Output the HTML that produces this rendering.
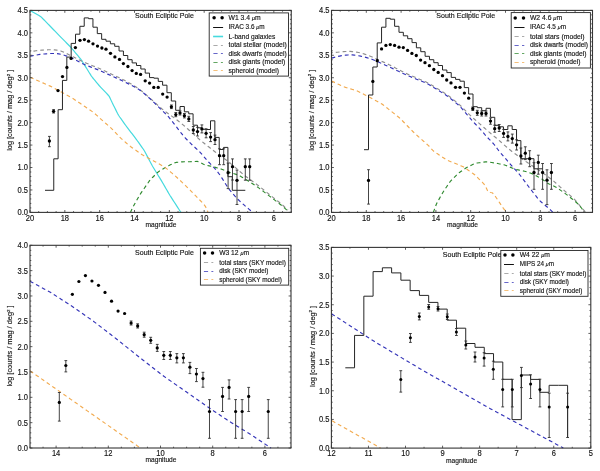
<!DOCTYPE html><html><head><meta charset="utf-8"><style>html,body{margin:0;padding:0;background:#fff;}svg{display:block;will-change:transform;}text{font-family:"Liberation Sans", sans-serif;}</style></head><body>
<svg width="600" height="471" viewBox="0 0 600 471">
<rect width="600" height="471" fill="#fff"/>
<polyline points="30,10.4 31.8,11.43 33.6,12.47 35.4,13.5 37.2,14.53 39,15.57 40.75,16.66 42.22,18.05 43.63,19.49 45.05,20.94 46.46,22.38 47.88,23.83 49.29,25.28 50.71,26.74 52.14,28.23 53.57,29.71 55,31.2 56.43,32.69 57.86,34.17 59.29,35.66 60.76,37.16 62.27,38.67 63.79,40.19 65.3,41.7 66.81,43.21 68.33,44.73 69.84,46.24 71.26,47.79 72.59,49.38 73.91,50.97 75.24,52.56 76.56,54.14 77.89,55.73 79.21,57.32 80.53,58.91 81.73,60.55 82.79,62.25 83.85,63.95 84.91,65.65 85.97,67.35 87.03,69.05 88.09,70.75 89.15,72.45 90.21,74.15 91.27,75.85 92.47,77.5 93.79,79.1 95.12,80.7 96.45,82.3 97.77,83.9 99.12,85.49 100.56,87.04 102.01,88.59 103.47,90.13 104.93,91.67 106.39,93.21 107.84,94.76 109.23,96.38 110.26,98.46 111.22,100.62 112.15,102.6 113.06,104.42 113.97,106.23 114.87,108.05 115.78,109.86 116.69,111.67 117.59,113.49 118.54,115.28 119.71,117 120.93,118.7 122.14,120.4 123.36,122.1 124.57,123.8 125.79,125.5 127.01,127.2 128.31,128.89 129.62,130.58 130.92,132.28 132.23,133.97 133.54,135.66 134.85,137.35 136.11,139.05 137.32,140.75 138.54,142.45 139.75,144.15 140.96,145.85 142.18,147.55 143.39,149.25 144.47,151 145.42,152.78 146.36,154.57 147.31,156.36 148.25,158.15 149.19,159.94 150.14,161.73 151.08,163.52 152.03,165.3 153.03,167.06 154.09,168.79 155.16,170.51 156.22,172.24 157.28,173.96 158.34,175.69 159.41,177.41 160.47,179.14 161.53,180.91 162.59,182.74 163.65,184.56 164.71,186.38 165.76,188.21 166.82,190.03 167.88,191.85 168.94,193.68 170,195.48 171.09,197.19 172.18,198.88 173.27,200.57 174.36,202.26 175.45,203.95 176.54,205.64 177.63,207.33 178.72,209.02 179.81,210.71 180.9,212.4" fill="none" stroke="#45dade" stroke-width="1.2" stroke-linejoin="round"/>
<polyline points="30,51.7 32,51.4 34,51.1 36,50.8 38.01,50.53 40.02,50.29 42.04,50.12 44.07,49.99 46.11,49.88 48.16,49.78 50.23,49.73 52.35,49.77 54.51,49.89 56.68,50.09 58.79,50.41 60.79,50.95 62.67,51.68 64.5,52.54 66.3,53.42 68.1,54.32 69.92,55.22 71.77,56.14 73.65,57.08 75.57,58.04 77.5,59 79.43,59.96 81.37,60.91 83.31,61.82 85.25,62.68 87.2,63.5 89.15,64.3 91.11,65.1 93.09,65.91 95.14,66.72 97.26,67.55 99.4,68.42 101.48,69.32 103.47,70.25 105.42,71.21 107.35,72.17 109.27,73.12 111.2,74.06 113.13,74.96 115.05,75.84 116.98,76.72 118.9,77.6 120.8,78.49 122.65,79.41 124.47,80.36 126.26,81.32 128.04,82.28 129.82,83.26 131.6,84.27 133.36,85.33 135.11,86.45 136.85,87.6 138.58,88.77 140.27,89.97 141.89,91.21 143.46,92.5 144.98,93.82 146.5,95.15 148.01,96.48 149.53,97.81 151.05,99.15 152.57,100.51 154.09,101.88 155.62,103.26 157.15,104.65 158.68,106.03 160.22,107.41 161.78,108.76 163.38,110.05 165.02,111.29 166.69,112.5 168.36,113.7 170.04,114.9 171.71,116.1 173.38,117.31 175.04,118.52 176.68,119.76 178.3,121.03 179.9,122.3 181.5,123.59 183.09,124.9 184.68,126.25 186.27,127.64 187.85,129.05 189.43,130.47 191.02,131.9 192.61,133.33 194.2,134.76 195.8,136.2 197.4,137.63 199,139.04 200.6,140.4 202.2,141.71 203.8,143 205.4,144.28 207,145.55 208.59,146.81 210.18,148.06 211.76,149.31 213.35,150.55 214.94,151.79 216.53,153.03 218.13,154.26 219.77,155.48 221.43,156.67 223.11,157.86 224.79,159.04 226.47,160.24 228.13,161.46 229.75,162.74 231.35,164.07 232.92,165.43 234.5,166.79 236.07,168.17 237.63,169.53 239.21,170.9 240.78,172.27 242.35,173.64 243.95,174.98 245.6,176.28 247.28,177.55 248.98,178.79 250.69,180.03 252.41,181.27 254.12,182.51 255.83,183.75 257.52,185.01 259.2,186.29 260.85,187.59 262.49,188.91 264.13,190.24 265.77,191.56 267.41,192.89 269.04,194.21 270.68,195.53 272.33,196.84 273.97,198.14 275.62,199.43 277.26,200.72 278.9,202.02 280.53,203.32 282.1,204.65 283.62,206.01 285.1,207.4 286.55,208.8 288,210.2" fill="none" stroke="#8e8e8e" stroke-width="1.15" stroke-dasharray="3.8 3.0" stroke-dashoffset="3.3" stroke-linejoin="round"/>
<polyline points="30,56.3 32,55.9 34,55.5 36,55.1 38.01,54.73 40.02,54.42 42.04,54.17 44.07,53.98 46.11,53.81 48.16,53.66 50.23,53.55 52.35,53.51 54.51,53.55 56.69,53.66 58.83,53.87 60.91,54.25 62.91,54.8 64.87,55.44 66.82,56.11 68.76,56.81 70.68,57.55 72.55,58.38 74.37,59.3 76.16,60.26 77.95,61.25 79.73,62.22 81.54,63.18 83.38,64.08 85.27,64.9 87.2,65.66 89.15,66.4 91.1,67.13 93.04,67.87 94.96,68.62 96.86,69.37 98.74,70.15 100.63,70.95 102.54,71.79 104.46,72.65 106.38,73.52 108.31,74.39 110.24,75.26 112.16,76.14 114.09,77.01 116.02,77.88 117.95,78.76 119.88,79.64 121.81,80.54 123.75,81.48 125.69,82.43 127.63,83.39 129.57,84.36 131.47,85.33 133.31,86.31 135.1,87.3 136.85,88.3 138.58,89.32 140.27,90.4 141.89,91.58 143.46,92.86 144.98,94.2 146.5,95.55 148.01,96.91 149.52,98.27 151.02,99.64 152.49,101.02 153.93,102.42 155.37,103.83 156.79,105.25 158.22,106.66 159.65,108.07 161.09,109.49 162.57,110.92 164.09,112.37 165.63,113.83 167.14,115.34 168.59,116.92 169.96,118.57 171.29,120.25 172.61,121.95 173.92,123.64 175.22,125.32 176.49,126.97 177.74,128.59 178.98,130.2 180.21,131.8 181.44,133.4 182.7,134.98 184,136.53 185.37,138.03 186.78,139.51 188.21,140.96 189.66,142.42 191.13,143.87 192.65,145.32 194.21,146.76 195.8,148.2 197.38,149.65 198.93,151.12 200.39,152.63 201.78,154.18 203.13,155.76 204.47,157.34 205.81,158.92 207.16,160.47 208.55,161.99 209.96,163.47 211.39,164.94 212.82,166.4 214.23,167.87 215.6,169.38 216.9,170.95 218.14,172.57 219.35,174.23 220.52,175.93 221.65,177.67 222.77,179.43 223.87,181.21 224.98,182.98 226.09,184.75 227.22,186.49 228.39,188.19 229.62,189.81 230.89,191.37 232.18,192.92 233.47,194.45 234.78,195.99 236.15,197.52 237.6,199.03 239.15,200.53 240.76,202.02 242.38,203.49 244,204.94 245.63,206.36 247.25,207.74 248.88,209.11 250.52,210.46 252.17,211.77 253,212.4" fill="none" stroke="#3434b8" stroke-width="1.15" stroke-dasharray="3.8 3.0" stroke-dashoffset="0" stroke-linejoin="round"/>
<polyline points="130.5,212.4 131.4,210.25 132.33,208.18 133.33,206.29 134.35,204.47 135.38,202.66 136.41,200.85 137.43,199.03 138.46,197.22 139.5,195.41 140.6,193.65 141.76,191.94 142.94,190.24 144.12,188.53 145.29,186.82 146.47,185.12 147.65,183.41 148.83,181.71 150.07,180.04 151.51,178.49 153.02,176.98 154.53,175.47 156.04,173.96 157.57,172.48 159.25,171.17 161.1,170.03 162.97,168.92 164.83,167.81 166.7,166.74 168.54,165.77 170.39,164.83 172.23,163.9 174.09,163.01 176.05,162.44 178.11,162.2 180.19,162 182.26,161.81 184.35,161.71 186.45,161.7 188.55,161.7 190.66,161.69 192.81,161.63 195,161.5 197.18,161.43 199.24,161.9 201.17,162.89 203.09,163.94 205.04,164.86 207.08,165.42 209.15,165.85 211.23,166.28 213.31,166.74 215.4,167.33 217.5,167.95 219.6,168.58 221.69,169.24 223.77,170.03 225.85,170.85 227.92,171.67 230,172.46 232.07,173.12 234.15,173.75 236.22,174.38 238.25,175.11 240.17,176.11 242.03,177.22 243.9,178.33 245.76,179.45 247.6,180.59 249.4,181.75 251.2,182.92 253,184.09 254.8,185.26 256.6,186.43 258.36,187.62 260.04,188.85 261.67,190.1 263.31,191.35 264.95,192.6 266.59,193.85 268.22,195.1 269.86,196.35 271.5,197.61 273.15,198.88 274.79,200.15 276.44,201.43 278.08,202.71 279.73,203.98 281.38,205.27 283.03,206.67 284.69,208.17 286.34,209.69 288,211.2" fill="none" stroke="#2f8a2f" stroke-width="1.15" stroke-dasharray="3.8 3.0" stroke-dashoffset="0" stroke-linejoin="round"/>
<polyline points="30,77.2 31.84,78.01 33.69,78.82 35.53,79.63 37.37,80.43 39.22,81.24 41.06,82.05 42.9,82.86 44.75,83.67 46.59,84.48 48.43,85.3 50.26,86.14 52.07,87.03 53.86,87.97 55.64,88.94 57.41,89.91 59.19,90.89 60.96,91.86 62.74,92.84 64.51,93.81 66.29,94.79 68.06,95.76 69.83,96.75 71.59,97.76 73.33,98.82 75.04,99.93 76.74,101.06 78.44,102.2 80.13,103.35 81.83,104.49 83.52,105.64 85.22,106.78 86.92,107.92 88.61,109.07 90.3,110.22 91.98,111.39 93.63,112.63 95.23,113.96 96.8,115.34 98.35,116.75 99.9,118.17 101.45,119.58 103.02,120.97 104.59,122.36 106.16,123.73 107.74,125.09 109.32,126.47 110.86,127.87 112.36,129.33 113.81,130.84 115.24,132.38 116.66,133.92 118.08,135.46 119.53,136.97 121.03,138.41 122.56,139.79 124.12,141.14 125.69,142.48 127.26,143.82 128.85,145.14 130.46,146.43 132.12,147.67 133.8,148.87 135.5,150.06 137.2,151.25 138.9,152.44 140.6,153.62 142.32,154.78 144.08,155.87 145.88,156.89 147.71,157.85 149.56,158.78 151.42,159.72 153.26,160.67 155.1,161.67 156.92,162.7 158.74,163.75 160.55,164.82 162.36,165.88 164.15,166.98 165.88,168.14 167.54,169.4 169.14,170.72 170.71,172.07 172.29,173.43 173.85,174.79 175.41,176.15 176.95,177.52 178.45,178.91 179.93,180.3 181.4,181.7 182.87,183.1 184.33,184.5 185.8,185.9 187.25,187.31 188.69,188.73 190.11,190.16 191.52,191.6 192.93,193.04 194.34,194.48 195.74,195.92 197.15,197.36 198.56,198.8 199.97,200.24 201.38,201.68 202.77,203.14 204.11,204.66 205.31,206.33 206.35,208.2 207.2,210.27 208,212.4" fill="none" stroke="#f2ab50" stroke-width="1.15" stroke-dasharray="3.8 3.0" stroke-dashoffset="0" stroke-linejoin="round"/>
<path d="M45,190.3H53.75V158.8H58.11V109.7H62.46V80.4H66.82V57.1H71.17V43.4H75.52V34.2H79.88V26.3H84.23V17.9H88.59V18.7H92.94V27.2H97.29V33.6H101.65V39.3H106V41.2H110.36V43.8H114.71V46.3H119.06V51H123.42V55.5H127.77V59.7H132.13V62.9H136.48V65.5H140.83V69H145.19V73.1H149.54V77.6H153.9V78.2H158.25V81.4H162.6V85.2H166.96V92.7H171.31V101H175.67V110.3H180.02V106.5H184.37V111.8H188.73V113.8H193.08V125.2H197.44V127.8H201.79V129.3H206.14V129.5H210.5V120.8H214.85V137.4H219.21V149.5H223.56V147.4H227.91V176.7H232.27V190.3H245.3" fill="none" stroke="#262626" stroke-width="1.0"/>
<path d="M49.4,136.4V146.7M48,136.4h2.8M48,146.7h2.8M53.6,109.6V113M52.2,109.6h2.8M52.2,113h2.8M171.4,105V108.6M170,105h2.8M170,108.6h2.8M175.8,112.5V116.7M174.4,112.5h2.8M174.4,116.7h2.8M180,110.8V115M178.6,110.8h2.8M178.6,115h2.8M184.4,113.5V117.9M183,113.5h2.8M183,117.9h2.8M188.8,116.3V121.5M187.4,116.3h2.8M187.4,121.5h2.8M193.3,126.5V133.5M191.9,126.5h2.8M191.9,133.5h2.8M197.5,127.3V136M196.1,127.3h2.8M196.1,136h2.8M201.9,124.9V132.9M200.5,124.9h2.8M200.5,132.9h2.8M206.1,128.8V137.8M204.7,128.8h2.8M204.7,137.8h2.8M210.6,132.6V141.6M209.2,132.6h2.8M209.2,141.6h2.8M215,135.1V144.5M213.6,135.1h2.8M213.6,144.5h2.8M219.5,148.8V164.7M218.1,148.8h2.8M218.1,164.7h2.8M223.7,148.8V164.7M222.3,148.8h2.8M222.3,164.7h2.8M228.1,163.1V188.6M226.7,163.1h2.8M226.7,188.6h2.8M232.5,158.9V180M231.1,158.9h2.8M231.1,180h2.8M237,170.1V204.5M235.6,170.1h2.8M235.6,204.5h2.8M245.3,158.9V180.2M243.9,158.9h2.8M243.9,180.2h2.8M249.7,158.9V180.2M248.3,158.9h2.8M248.3,180.2h2.8" stroke="#303030" stroke-width="0.9" fill="none"/>
<circle cx="49.4" cy="141" r="1.65" fill="#000"/>
<circle cx="53.6" cy="111.3" r="1.65" fill="#000"/>
<circle cx="58" cy="90.6" r="1.65" fill="#000"/>
<circle cx="62.5" cy="76.6" r="1.65" fill="#000"/>
<circle cx="66.9" cy="67.4" r="1.65" fill="#000"/>
<circle cx="71.1" cy="58.4" r="1.65" fill="#000"/>
<circle cx="75.4" cy="47.6" r="1.65" fill="#000"/>
<circle cx="80" cy="40.3" r="1.65" fill="#000"/>
<circle cx="84.4" cy="39.6" r="1.65" fill="#000"/>
<circle cx="88.6" cy="41.2" r="1.65" fill="#000"/>
<circle cx="93" cy="43.8" r="1.65" fill="#000"/>
<circle cx="97.5" cy="46.1" r="1.65" fill="#000"/>
<circle cx="101.9" cy="48" r="1.65" fill="#000"/>
<circle cx="106" cy="49.2" r="1.65" fill="#000"/>
<circle cx="110.5" cy="53.3" r="1.65" fill="#000"/>
<circle cx="114.9" cy="56.9" r="1.65" fill="#000"/>
<circle cx="119.5" cy="59.4" r="1.65" fill="#000"/>
<circle cx="123.4" cy="63.6" r="1.65" fill="#000"/>
<circle cx="127.9" cy="66.5" r="1.65" fill="#000"/>
<circle cx="132.1" cy="70.6" r="1.65" fill="#000"/>
<circle cx="136.3" cy="73.4" r="1.65" fill="#000"/>
<circle cx="140.6" cy="74.4" r="1.65" fill="#000"/>
<circle cx="145.2" cy="80.8" r="1.65" fill="#000"/>
<circle cx="149.6" cy="83.1" r="1.65" fill="#000"/>
<circle cx="153.8" cy="87.4" r="1.65" fill="#000"/>
<circle cx="158.2" cy="87.4" r="1.65" fill="#000"/>
<circle cx="162.7" cy="94.1" r="1.65" fill="#000"/>
<circle cx="167.1" cy="97.1" r="1.65" fill="#000"/>
<circle cx="171.4" cy="106.8" r="1.65" fill="#000"/>
<circle cx="175.8" cy="114.6" r="1.65" fill="#000"/>
<circle cx="180" cy="112.9" r="1.65" fill="#000"/>
<circle cx="184.4" cy="115.7" r="1.65" fill="#000"/>
<circle cx="188.8" cy="118.9" r="1.65" fill="#000"/>
<circle cx="193.3" cy="130" r="1.65" fill="#000"/>
<circle cx="197.5" cy="131.6" r="1.65" fill="#000"/>
<circle cx="201.9" cy="128.9" r="1.65" fill="#000"/>
<circle cx="206.1" cy="133.3" r="1.65" fill="#000"/>
<circle cx="210.6" cy="137.1" r="1.65" fill="#000"/>
<circle cx="215" cy="139.7" r="1.65" fill="#000"/>
<circle cx="219.5" cy="155.7" r="1.65" fill="#000"/>
<circle cx="223.7" cy="155.7" r="1.65" fill="#000"/>
<circle cx="228.1" cy="172.7" r="1.65" fill="#000"/>
<circle cx="232.5" cy="166.7" r="1.65" fill="#000"/>
<circle cx="237" cy="180.3" r="1.65" fill="#000"/>
<circle cx="245.3" cy="166.7" r="1.65" fill="#000"/>
<circle cx="249.7" cy="166.7" r="1.65" fill="#000"/>
<rect x="30" y="10.4" width="261.25" height="202" fill="none" stroke="#363636" stroke-width="1.1"/>
<path d="M30,212.4v-2.4M30,10.4v2.4M38.71,212.4v-1.3M38.71,10.4v1.3M47.42,212.4v-1.3M47.42,10.4v1.3M56.12,212.4v-1.3M56.12,10.4v1.3M64.83,212.4v-2.4M64.83,10.4v2.4M73.54,212.4v-1.3M73.54,10.4v1.3M82.25,212.4v-1.3M82.25,10.4v1.3M90.96,212.4v-1.3M90.96,10.4v1.3M99.67,212.4v-2.4M99.67,10.4v2.4M108.38,212.4v-1.3M108.38,10.4v1.3M117.08,212.4v-1.3M117.08,10.4v1.3M125.79,212.4v-1.3M125.79,10.4v1.3M134.5,212.4v-2.4M134.5,10.4v2.4M143.21,212.4v-1.3M143.21,10.4v1.3M151.92,212.4v-1.3M151.92,10.4v1.3M160.62,212.4v-1.3M160.62,10.4v1.3M169.33,212.4v-2.4M169.33,10.4v2.4M178.04,212.4v-1.3M178.04,10.4v1.3M186.75,212.4v-1.3M186.75,10.4v1.3M195.46,212.4v-1.3M195.46,10.4v1.3M204.17,212.4v-2.4M204.17,10.4v2.4M212.88,212.4v-1.3M212.88,10.4v1.3M221.58,212.4v-1.3M221.58,10.4v1.3M230.29,212.4v-1.3M230.29,10.4v1.3M239,212.4v-2.4M239,10.4v2.4M247.71,212.4v-1.3M247.71,10.4v1.3M256.42,212.4v-1.3M256.42,10.4v1.3M265.12,212.4v-1.3M265.12,10.4v1.3M273.83,212.4v-2.4M273.83,10.4v2.4M282.54,212.4v-1.3M282.54,10.4v1.3M291.25,212.4v-1.3M291.25,10.4v1.3M30,212.4h2.4M291.25,212.4h-2.4M30,207.91h1.3M291.25,207.91h-1.3M30,203.42h1.3M291.25,203.42h-1.3M30,198.93h1.3M291.25,198.93h-1.3M30,194.44h1.3M291.25,194.44h-1.3M30,189.96h2.4M291.25,189.96h-2.4M30,185.47h1.3M291.25,185.47h-1.3M30,180.98h1.3M291.25,180.98h-1.3M30,176.49h1.3M291.25,176.49h-1.3M30,172h1.3M291.25,172h-1.3M30,167.51h2.4M291.25,167.51h-2.4M30,163.02h1.3M291.25,163.02h-1.3M30,158.53h1.3M291.25,158.53h-1.3M30,154.04h1.3M291.25,154.04h-1.3M30,149.56h1.3M291.25,149.56h-1.3M30,145.07h2.4M291.25,145.07h-2.4M30,140.58h1.3M291.25,140.58h-1.3M30,136.09h1.3M291.25,136.09h-1.3M30,131.6h1.3M291.25,131.6h-1.3M30,127.11h1.3M291.25,127.11h-1.3M30,122.62h2.4M291.25,122.62h-2.4M30,118.13h1.3M291.25,118.13h-1.3M30,113.64h1.3M291.25,113.64h-1.3M30,109.16h1.3M291.25,109.16h-1.3M30,104.67h1.3M291.25,104.67h-1.3M30,100.18h2.4M291.25,100.18h-2.4M30,95.69h1.3M291.25,95.69h-1.3M30,91.2h1.3M291.25,91.2h-1.3M30,86.71h1.3M291.25,86.71h-1.3M30,82.22h1.3M291.25,82.22h-1.3M30,77.73h2.4M291.25,77.73h-2.4M30,73.24h1.3M291.25,73.24h-1.3M30,68.76h1.3M291.25,68.76h-1.3M30,64.27h1.3M291.25,64.27h-1.3M30,59.78h1.3M291.25,59.78h-1.3M30,55.29h2.4M291.25,55.29h-2.4M30,50.8h1.3M291.25,50.8h-1.3M30,46.31h1.3M291.25,46.31h-1.3M30,41.82h1.3M291.25,41.82h-1.3M30,37.33h1.3M291.25,37.33h-1.3M30,32.84h2.4M291.25,32.84h-2.4M30,28.36h1.3M291.25,28.36h-1.3M30,23.87h1.3M291.25,23.87h-1.3M30,19.38h1.3M291.25,19.38h-1.3M30,14.89h1.3M291.25,14.89h-1.3M30,10.4h2.4M291.25,10.4h-2.4" stroke="#363636" stroke-width="0.8" fill="none"/>
<text x="30" y="220.7" font-size="8.2" text-anchor="middle" fill="#151515" stroke="#151515" stroke-width="0.15" textLength="8.4" lengthAdjust="spacingAndGlyphs">20</text>
<text x="64.83" y="220.7" font-size="8.2" text-anchor="middle" fill="#151515" stroke="#151515" stroke-width="0.15" textLength="8.4" lengthAdjust="spacingAndGlyphs">18</text>
<text x="99.67" y="220.7" font-size="8.2" text-anchor="middle" fill="#151515" stroke="#151515" stroke-width="0.15" textLength="8.4" lengthAdjust="spacingAndGlyphs">16</text>
<text x="134.5" y="220.7" font-size="8.2" text-anchor="middle" fill="#151515" stroke="#151515" stroke-width="0.15" textLength="8.4" lengthAdjust="spacingAndGlyphs">14</text>
<text x="169.33" y="220.7" font-size="8.2" text-anchor="middle" fill="#151515" stroke="#151515" stroke-width="0.15" textLength="8.4" lengthAdjust="spacingAndGlyphs">12</text>
<text x="204.17" y="220.7" font-size="8.2" text-anchor="middle" fill="#151515" stroke="#151515" stroke-width="0.15" textLength="8.4" lengthAdjust="spacingAndGlyphs">10</text>
<text x="239" y="220.7" font-size="8.2" text-anchor="middle" fill="#151515" stroke="#151515" stroke-width="0.15" textLength="4.2" lengthAdjust="spacingAndGlyphs">8</text>
<text x="273.83" y="220.7" font-size="8.2" text-anchor="middle" fill="#151515" stroke="#151515" stroke-width="0.15" textLength="4.2" lengthAdjust="spacingAndGlyphs">6</text>
<text x="28" y="215.35" font-size="8.2" text-anchor="end" fill="#151515" stroke="#151515" stroke-width="0.15" textLength="10.49" lengthAdjust="spacingAndGlyphs">0.0</text>
<text x="28" y="192.91" font-size="8.2" text-anchor="end" fill="#151515" stroke="#151515" stroke-width="0.15" textLength="10.49" lengthAdjust="spacingAndGlyphs">0.5</text>
<text x="28" y="170.46" font-size="8.2" text-anchor="end" fill="#151515" stroke="#151515" stroke-width="0.15" textLength="10.49" lengthAdjust="spacingAndGlyphs">1.0</text>
<text x="28" y="148.02" font-size="8.2" text-anchor="end" fill="#151515" stroke="#151515" stroke-width="0.15" textLength="10.49" lengthAdjust="spacingAndGlyphs">1.5</text>
<text x="28" y="125.57" font-size="8.2" text-anchor="end" fill="#151515" stroke="#151515" stroke-width="0.15" textLength="10.49" lengthAdjust="spacingAndGlyphs">2.0</text>
<text x="28" y="103.13" font-size="8.2" text-anchor="end" fill="#151515" stroke="#151515" stroke-width="0.15" textLength="10.49" lengthAdjust="spacingAndGlyphs">2.5</text>
<text x="28" y="80.68" font-size="8.2" text-anchor="end" fill="#151515" stroke="#151515" stroke-width="0.15" textLength="10.49" lengthAdjust="spacingAndGlyphs">3.0</text>
<text x="28" y="58.24" font-size="8.2" text-anchor="end" fill="#151515" stroke="#151515" stroke-width="0.15" textLength="10.49" lengthAdjust="spacingAndGlyphs">3.5</text>
<text x="28" y="35.79" font-size="8.2" text-anchor="end" fill="#151515" stroke="#151515" stroke-width="0.15" textLength="10.49" lengthAdjust="spacingAndGlyphs">4.0</text>
<text x="28" y="13.35" font-size="8.2" text-anchor="end" fill="#151515" stroke="#151515" stroke-width="0.15" textLength="10.49" lengthAdjust="spacingAndGlyphs">4.5</text>
<text x="164.4" y="17.9" font-size="7.3" text-anchor="middle" fill="#151515" stroke="#151515" stroke-width="0.15" textLength="58.8" lengthAdjust="spacingAndGlyphs">South Ecliptic Pole</text>
<text x="161" y="227" font-size="7.1" text-anchor="middle" fill="#151515" stroke="#151515" stroke-width="0.15" textLength="31" lengthAdjust="spacingAndGlyphs">magnitude</text>
<text transform="translate(12.3,110.3) rotate(-90) scale(1.0249,1)" font-size="7.2" text-anchor="middle" fill="#151515" stroke="#151515" stroke-width="0.15">log [counts / mag / deg<tspan font-size="4.3" dy="-2.5">2</tspan><tspan dy="2.5"> ]</tspan></text>
<rect x="209.2" y="12.9" width="79.3" height="63.2" fill="#fff" stroke="#262626" stroke-width="0.9"/>
<circle cx="214.1" cy="17.8" r="1.75" fill="#000"/>
<circle cx="222.1" cy="17.8" r="1.75" fill="#000"/>
<text x="228.5" y="19.8" font-size="7.0" text-anchor="start" fill="#151515" stroke="#151515" stroke-width="0.15" textLength="32.2" lengthAdjust="spacingAndGlyphs">W1 3.4 <tspan font-style="italic" font-size="5.8">μ</tspan>m</text>
<path d="M213.1,27.5H223.1" stroke="#111" stroke-width="1"/>
<text x="228.5" y="29.4" font-size="7.0" text-anchor="start" fill="#151515" stroke="#151515" stroke-width="0.15" textLength="36.1" lengthAdjust="spacingAndGlyphs">IRAC 3.6 <tspan font-style="italic" font-size="5.8">μ</tspan>m</text>
<path d="M213.1,36.5H223.1" stroke="#45dade" stroke-width="1.6"/>
<text x="228.5" y="38.5" font-size="7.0" text-anchor="start" fill="#151515" stroke="#151515" stroke-width="0.15" textLength="46.8" lengthAdjust="spacingAndGlyphs">L-band galaxies</text>
<path d="M213.4,45.5H222.9" stroke="#8e8e8e" stroke-width="1" stroke-dasharray="4.2 3.3" opacity="0.75"/>
<text x="228.5" y="47.2" font-size="7.0" text-anchor="start" fill="#151515" stroke="#151515" stroke-width="0.15" textLength="58.2" lengthAdjust="spacingAndGlyphs">total stellar (model)</text>
<path d="M213.4,53.5H222.9" stroke="#3434b8" stroke-width="1" stroke-dasharray="4.2 3.3" opacity="0.75"/>
<text x="228.5" y="55.7" font-size="7.0" text-anchor="start" fill="#151515" stroke="#151515" stroke-width="0.15" textLength="58.2" lengthAdjust="spacingAndGlyphs">disk dwarfs (model)</text>
<path d="M213.4,62.5H222.9" stroke="#2f8a2f" stroke-width="1" stroke-dasharray="4.2 3.3" opacity="0.75"/>
<text x="228.5" y="64.2" font-size="7.0" text-anchor="start" fill="#151515" stroke="#151515" stroke-width="0.15" textLength="56.7" lengthAdjust="spacingAndGlyphs">disk giants (model)</text>
<path d="M213.4,70.5H222.9" stroke="#f2ab50" stroke-width="1" stroke-dasharray="4.2 3.3" opacity="0.75"/>
<text x="228.5" y="72.7" font-size="7.0" text-anchor="start" fill="#151515" stroke="#151515" stroke-width="0.15" textLength="50.5" lengthAdjust="spacingAndGlyphs">spheroid (model)</text>
<polyline points="331.5,52.8 333.52,52.6 335.54,52.4 337.56,52.2 339.59,52.01 341.65,51.82 343.74,51.66 345.85,51.51 347.97,51.42 350.1,51.43 352.22,51.59 354.34,51.85 356.46,52.17 358.55,52.53 360.61,52.97 362.6,53.52 364.55,54.15 366.48,54.82 368.41,55.5 370.32,56.22 372.22,56.99 374.11,57.81 375.99,58.67 377.87,59.53 379.74,60.4 381.62,61.27 383.5,62.13 385.37,63 387.25,63.87 389.11,64.74 390.96,65.63 392.78,66.54 394.57,67.46 396.36,68.39 398.15,69.32 399.94,70.25 401.73,71.18 403.52,72.1 405.32,73 407.14,73.86 408.98,74.68 410.83,75.48 412.68,76.27 414.53,77.06 416.39,77.85 418.24,78.64 420.09,79.43 421.94,80.23 423.79,81.02 425.63,81.85 427.45,82.74 429.24,83.72 431.01,84.76 432.77,85.84 434.53,86.91 436.28,87.99 438.04,89.07 439.8,90.15 441.55,91.23 443.31,92.31 445.06,93.4 446.78,94.53 448.46,95.72 450.09,96.98 451.7,98.28 453.3,99.59 454.9,100.91 456.5,102.22 458.09,103.54 459.64,104.88 461.14,106.26 462.59,107.68 464,109.11 465.43,110.57 466.9,112.04 468.43,113.54 470,115.05 471.6,116.55 473.18,118.02 474.76,119.45 476.34,120.83 477.91,122.21 479.48,123.58 481.05,124.95 482.62,126.32 484.18,127.7 485.75,129.08 487.32,130.46 488.89,131.85 490.48,133.24 492.11,134.64 493.84,136.09 495.65,137.56 497.41,139.02 499.06,140.43 500.63,141.8 502.17,143.16 503.7,144.52 505.24,145.88 506.81,147.25 508.45,148.64 510.17,150.04 511.95,151.43 513.71,152.78 515.42,154.05 517.08,155.27 518.73,156.46 520.37,157.64 522.02,158.83 523.67,160.01 525.35,161.18 527.06,162.34 528.79,163.49 530.53,164.63 532.28,165.78 534.02,166.92 535.77,168.07 537.51,169.21 539.24,170.37 540.96,171.55 542.66,172.77 544.33,174.01 546,175.26 547.67,176.51 549.33,177.77 550.99,179.03 552.62,180.31 554.21,181.62 555.76,182.96 557.28,184.33 558.8,185.7 560.31,187.07 561.83,188.44 563.37,189.8 564.92,191.14 566.51,192.47 568.1,193.79 569.7,195.11 571.28,196.44 572.82,197.8 574.27,199.22 575.64,200.71 576.96,202.23 578.27,203.75 579.58,205.28 580.88,206.81 582.2,208.35 583.53,209.89 584.91,211.48 585.8,212.4" fill="none" stroke="#8e8e8e" stroke-width="1.15" stroke-dasharray="3.8 3.0" stroke-dashoffset="2.5" stroke-linejoin="round"/>
<polyline points="331.5,58.1 333.52,57.58 335.54,57.06 337.56,56.55 339.59,56.07 341.65,55.67 343.73,55.37 345.84,55.15 347.96,54.97 350.08,54.86 352.2,54.87 354.32,55.06 356.44,55.37 358.56,55.75 360.66,56.15 362.71,56.6 364.72,57.11 366.69,57.67 368.64,58.25 370.58,58.84 372.5,59.48 374.39,60.19 376.26,60.98 378.1,61.81 379.95,62.65 381.79,63.49 383.63,64.33 385.47,65.17 387.32,66.02 389.17,66.87 391.03,67.73 392.91,68.62 394.8,69.53 396.7,70.44 398.6,71.35 400.5,72.26 402.4,73.17 404.31,74.07 406.22,74.94 408.14,75.76 410.07,76.56 412.01,77.35 413.95,78.13 415.88,78.91 417.82,79.69 419.75,80.47 421.69,81.26 423.62,82.04 425.54,82.86 427.41,83.75 429.23,84.74 431.01,85.8 432.77,86.89 434.53,87.98 436.28,89.08 438.04,90.17 439.8,91.27 441.55,92.37 443.31,93.46 445.06,94.57 446.78,95.71 448.46,96.92 450.09,98.18 451.7,99.48 453.3,100.79 454.9,102.11 456.5,103.42 458.09,104.76 459.64,106.15 461.14,107.65 462.59,109.26 464,110.93 465.4,112.61 466.81,114.3 468.23,115.99 469.64,117.68 471.07,119.35 472.49,120.98 473.91,122.54 475.33,124.02 476.75,125.46 478.16,126.89 479.53,128.36 480.86,129.86 482.16,131.38 483.45,132.92 484.75,134.46 486.12,135.99 487.55,137.52 489.05,139.04 490.55,140.57 492.05,142.12 493.49,143.75 494.85,145.47 496.17,147.25 497.47,149 498.77,150.68 500.09,152.28 501.41,153.83 502.73,155.37 504.05,156.9 505.37,158.43 506.69,159.97 508.02,161.5 509.35,163.03 510.69,164.56 512.04,166.08 513.4,167.6 514.76,169.12 516.12,170.64 517.48,172.16 518.82,173.69 520.12,175.25 521.36,176.83 522.57,178.43 523.76,180.04 524.95,181.65 526.13,183.27 527.32,184.88 528.52,186.48 529.73,188.08 530.96,189.66 532.19,191.24 533.42,192.82 534.66,194.39 535.89,195.97 537.14,197.54 538.41,199.09 539.77,200.57 541.23,201.98 542.78,203.33 544.35,204.65 545.93,205.97 547.51,207.31 549.09,208.69 550.66,210.13 552.22,211.64 553,212.4" fill="none" stroke="#3434b8" stroke-width="1.15" stroke-dasharray="3.8 3.0" stroke-dashoffset="0" stroke-linejoin="round"/>
<polyline points="433.3,212.4 434.06,210.38 434.81,208.36 435.57,206.33 436.34,204.32 437.22,202.42 438.22,200.62 439.24,198.84 440.25,197.05 441.27,195.27 442.29,193.49 443.32,191.73 444.42,190.03 445.53,188.37 446.65,186.7 447.77,185.03 448.89,183.37 450.09,181.73 451.51,180.17 453.02,178.65 454.53,177.12 456.04,175.59 457.56,174.08 459.15,172.74 460.82,171.56 462.5,170.4 464.18,169.24 465.87,168.09 467.63,167.05 469.47,166.1 471.31,165.17 473.16,164.24 475.06,163.44 477.13,163.01 479.25,162.72 481.38,162.43 483.51,162.14 485.63,161.88 487.69,161.89 489.7,162.18 491.7,162.5 493.7,162.82 495.7,163.15 497.74,163.52 499.81,163.94 501.89,164.36 503.96,164.81 506,165.44 508,166.26 510,167.1 512,167.94 514.01,168.76 516.07,169.41 518.19,169.88 520.32,170.34 522.45,170.79 524.57,171.25 526.69,171.78 528.79,172.5 530.87,173.3 532.94,174.11 534.85,175.01 536.6,176 538.33,177 540.07,178 541.82,179.07 543.63,180.32 545.46,181.63 547.29,182.91 549.13,183.97 550.98,184.8 552.82,185.6 554.67,186.42 556.48,187.44 558.25,188.65 560.02,189.88 561.78,191.12 563.55,192.35 565.31,193.59 567.01,194.86 568.65,196.16 570.28,197.47 571.91,198.78 573.54,200.08 575.17,201.39 576.74,202.75 578.17,204.22 579.54,205.73 580.9,207.27 582.19,209.03 583.4,211 584,212" fill="none" stroke="#2f8a2f" stroke-width="1.15" stroke-dasharray="3.8 3.0" stroke-dashoffset="0" stroke-linejoin="round"/>
<polyline points="331.5,81 333.38,81.89 335.25,82.78 337.13,83.68 339.01,84.57 340.88,85.46 342.76,86.34 344.69,87.08 346.65,87.68 348.62,88.26 350.59,88.85 352.56,89.43 354.53,90.02 356.47,90.66 358.31,91.52 360.13,92.43 361.94,93.34 363.76,94.26 365.57,95.17 367.39,96.09 369.2,97.02 371.03,98 372.86,99 374.69,100 376.51,101 378.34,102 380.17,103 381.96,104.05 383.61,105.27 385.22,106.55 386.83,107.82 388.44,109.09 390.05,110.36 391.65,111.64 393.26,112.91 394.87,114.18 396.48,115.45 398.09,116.73 399.67,118.04 401.16,119.5 402.62,121 404.08,122.5 405.54,124 407,125.5 408.46,127 409.92,128.5 411.38,130 412.84,131.5 414.32,132.98 415.85,134.37 417.39,135.74 418.94,137.11 420.49,138.47 422.04,139.84 423.58,141.21 425.13,142.58 426.68,143.95 428.22,145.33 429.71,146.84 431.15,148.5 432.59,150.15 434.15,151.55 435.81,152.69 437.49,153.81 439.16,154.94 440.84,156.06 442.51,157.19 444.19,158.31 445.87,159.43 447.69,160.38 449.63,161.18 451.58,161.97 453.54,162.76 455.49,163.55 457.44,164.34 459.39,165.12 461.35,165.91 463.25,166.77 464.97,167.89 466.64,169.07 468.31,170.26 469.99,171.44 471.66,172.63 473.33,173.81 474.96,175.04 476.43,176.43 477.86,177.86 479.29,179.29 480.71,180.71 482.14,182.14 483.57,183.57 484.89,185.08 485.82,186.88 486.65,188.75 487.48,190.62 488.53,192.16 490.4,192.5 492.34,192.8 493.7,194.16 494.9,195.81 496.1,197.48 497.3,199.21 498.5,201.03 499.7,202.85 500.9,204.66 502.1,206.48 503.33,208.27 504.66,209.94 506.02,211.58 506.7,212.4" fill="none" stroke="#f2ab50" stroke-width="1.15" stroke-dasharray="3.8 3.0" stroke-dashoffset="0" stroke-linejoin="round"/>
<path d="M364,149.7H368.5V95H372.85V67H377.21V42.9H381.56V27.2H385.92V18.3H390.27V19.2H394.62V26.3H398.98V32.3H403.33V35.8H407.69V38.7H412.04V42.6H416.39V47.8H420.75V51.7H425.1V56.3H429.46V59.7H433.81V62.7H438.16V65.5H442.52V70H446.87V72.6H451.23V77.4H455.58V79.4H459.93V81.2H464.29V87.6H468.64V94H473V106.7H477.35V107.7H481.7V110.7H486.06V108.3H490.41V117.3H494.77V125.3H499.12V126.8H503.47V129.5H507.83V125.8H512.18V129.5H516.54V140.6H520.89V158.7H525.24V158.7H529.6V158.7H533.95V168.8H538.31V168.8H542.7" fill="none" stroke="#262626" stroke-width="1.0"/>
<path d="M368.5,169.7V204.1M367.1,169.7h2.8M367.1,204.1h2.8M472.8,107V110.5M471.4,107h2.8M471.4,110.5h2.8M477.3,110.3V115.3M475.9,110.3h2.8M475.9,115.3h2.8M481.7,111V116M480.3,111h2.8M480.3,116h2.8M486,111V116M484.6,111h2.8M484.6,116h2.8M490.5,118V124.2M489.1,118h2.8M489.1,124.2h2.8M494.7,125.2V132.2M493.3,125.2h2.8M493.3,132.2h2.8M499.2,124.5V131.5M497.8,124.5h2.8M497.8,131.5h2.8M503.6,129.4V137.4M502.2,129.4h2.8M502.2,137.4h2.8M507.9,131.9V140.9M506.5,131.9h2.8M506.5,140.9h2.8M512.3,134.1V143.1M510.9,134.1h2.8M510.9,143.1h2.8M516.6,139.8V150M515.2,139.8h2.8M515.2,150h2.8M520.9,148V164M519.5,148h2.8M519.5,164h2.8M525.3,146.8V159.6M523.9,146.8h2.8M523.9,159.6h2.8M529.7,150.7V166.7M528.3,150.7h2.8M528.3,166.7h2.8M534,162.7V189.3M532.6,162.7h2.8M532.6,189.3h2.8M538.3,155.2V174.2M536.9,155.2h2.8M536.9,174.2h2.8M542.6,163.5V189.3M541.2,163.5h2.8M541.2,189.3h2.8M547,169.8V204.6M545.6,169.8h2.8M545.6,204.6h2.8M551.4,163.5V189.3M550,163.5h2.8M550,189.3h2.8" stroke="#303030" stroke-width="0.9" fill="none"/>
<circle cx="368.5" cy="180.4" r="1.65" fill="#000"/>
<circle cx="372.85" cy="81.4" r="1.65" fill="#000"/>
<circle cx="377.2" cy="60.7" r="1.65" fill="#000"/>
<circle cx="381.56" cy="48.9" r="1.65" fill="#000"/>
<circle cx="385.9" cy="45.4" r="1.65" fill="#000"/>
<circle cx="390.27" cy="44.6" r="1.65" fill="#000"/>
<circle cx="394.6" cy="45.4" r="1.65" fill="#000"/>
<circle cx="399" cy="47.2" r="1.65" fill="#000"/>
<circle cx="403.3" cy="47.6" r="1.65" fill="#000"/>
<circle cx="407.6" cy="50.4" r="1.65" fill="#000"/>
<circle cx="411.9" cy="53.4" r="1.65" fill="#000"/>
<circle cx="416.3" cy="55.5" r="1.65" fill="#000"/>
<circle cx="420.6" cy="60.1" r="1.65" fill="#000"/>
<circle cx="425" cy="62.7" r="1.65" fill="#000"/>
<circle cx="429.4" cy="65.7" r="1.65" fill="#000"/>
<circle cx="433.8" cy="69.5" r="1.65" fill="#000"/>
<circle cx="438.2" cy="72.4" r="1.65" fill="#000"/>
<circle cx="442.5" cy="75.7" r="1.65" fill="#000"/>
<circle cx="446.7" cy="80" r="1.65" fill="#000"/>
<circle cx="451" cy="82.9" r="1.65" fill="#000"/>
<circle cx="455.5" cy="87.3" r="1.65" fill="#000"/>
<circle cx="460" cy="87.3" r="1.65" fill="#000"/>
<circle cx="464.4" cy="93.1" r="1.65" fill="#000"/>
<circle cx="468.7" cy="98.2" r="1.65" fill="#000"/>
<circle cx="472.8" cy="108.7" r="1.65" fill="#000"/>
<circle cx="477.3" cy="112.8" r="1.65" fill="#000"/>
<circle cx="481.7" cy="113.5" r="1.65" fill="#000"/>
<circle cx="486" cy="113.5" r="1.65" fill="#000"/>
<circle cx="490.5" cy="121.1" r="1.65" fill="#000"/>
<circle cx="494.7" cy="128.7" r="1.65" fill="#000"/>
<circle cx="499.2" cy="128" r="1.65" fill="#000"/>
<circle cx="503.6" cy="133.4" r="1.65" fill="#000"/>
<circle cx="507.9" cy="136.4" r="1.65" fill="#000"/>
<circle cx="512.3" cy="138.6" r="1.65" fill="#000"/>
<circle cx="516.6" cy="144.8" r="1.65" fill="#000"/>
<circle cx="520.9" cy="156" r="1.65" fill="#000"/>
<circle cx="525.3" cy="153.2" r="1.65" fill="#000"/>
<circle cx="529.7" cy="158.7" r="1.65" fill="#000"/>
<circle cx="534" cy="172.5" r="1.65" fill="#000"/>
<circle cx="538.3" cy="162.4" r="1.65" fill="#000"/>
<circle cx="542.6" cy="172.5" r="1.65" fill="#000"/>
<circle cx="547" cy="180.2" r="1.65" fill="#000"/>
<circle cx="551.4" cy="172.5" r="1.65" fill="#000"/>
<rect x="331.5" y="10.4" width="261" height="202" fill="none" stroke="#363636" stroke-width="1.1"/>
<path d="M331.5,212.4v-2.4M331.5,10.4v2.4M340.2,212.4v-1.3M340.2,10.4v1.3M348.9,212.4v-1.3M348.9,10.4v1.3M357.6,212.4v-1.3M357.6,10.4v1.3M366.3,212.4v-2.4M366.3,10.4v2.4M375,212.4v-1.3M375,10.4v1.3M383.7,212.4v-1.3M383.7,10.4v1.3M392.4,212.4v-1.3M392.4,10.4v1.3M401.1,212.4v-2.4M401.1,10.4v2.4M409.8,212.4v-1.3M409.8,10.4v1.3M418.5,212.4v-1.3M418.5,10.4v1.3M427.2,212.4v-1.3M427.2,10.4v1.3M435.9,212.4v-2.4M435.9,10.4v2.4M444.6,212.4v-1.3M444.6,10.4v1.3M453.3,212.4v-1.3M453.3,10.4v1.3M462,212.4v-1.3M462,10.4v1.3M470.7,212.4v-2.4M470.7,10.4v2.4M479.4,212.4v-1.3M479.4,10.4v1.3M488.1,212.4v-1.3M488.1,10.4v1.3M496.8,212.4v-1.3M496.8,10.4v1.3M505.5,212.4v-2.4M505.5,10.4v2.4M514.2,212.4v-1.3M514.2,10.4v1.3M522.9,212.4v-1.3M522.9,10.4v1.3M531.6,212.4v-1.3M531.6,10.4v1.3M540.3,212.4v-2.4M540.3,10.4v2.4M549,212.4v-1.3M549,10.4v1.3M557.7,212.4v-1.3M557.7,10.4v1.3M566.4,212.4v-1.3M566.4,10.4v1.3M575.1,212.4v-2.4M575.1,10.4v2.4M583.8,212.4v-1.3M583.8,10.4v1.3M592.5,212.4v-1.3M592.5,10.4v1.3M331.5,212.4h2.4M592.5,212.4h-2.4M331.5,207.91h1.3M592.5,207.91h-1.3M331.5,203.42h1.3M592.5,203.42h-1.3M331.5,198.93h1.3M592.5,198.93h-1.3M331.5,194.44h1.3M592.5,194.44h-1.3M331.5,189.96h2.4M592.5,189.96h-2.4M331.5,185.47h1.3M592.5,185.47h-1.3M331.5,180.98h1.3M592.5,180.98h-1.3M331.5,176.49h1.3M592.5,176.49h-1.3M331.5,172h1.3M592.5,172h-1.3M331.5,167.51h2.4M592.5,167.51h-2.4M331.5,163.02h1.3M592.5,163.02h-1.3M331.5,158.53h1.3M592.5,158.53h-1.3M331.5,154.04h1.3M592.5,154.04h-1.3M331.5,149.56h1.3M592.5,149.56h-1.3M331.5,145.07h2.4M592.5,145.07h-2.4M331.5,140.58h1.3M592.5,140.58h-1.3M331.5,136.09h1.3M592.5,136.09h-1.3M331.5,131.6h1.3M592.5,131.6h-1.3M331.5,127.11h1.3M592.5,127.11h-1.3M331.5,122.62h2.4M592.5,122.62h-2.4M331.5,118.13h1.3M592.5,118.13h-1.3M331.5,113.64h1.3M592.5,113.64h-1.3M331.5,109.16h1.3M592.5,109.16h-1.3M331.5,104.67h1.3M592.5,104.67h-1.3M331.5,100.18h2.4M592.5,100.18h-2.4M331.5,95.69h1.3M592.5,95.69h-1.3M331.5,91.2h1.3M592.5,91.2h-1.3M331.5,86.71h1.3M592.5,86.71h-1.3M331.5,82.22h1.3M592.5,82.22h-1.3M331.5,77.73h2.4M592.5,77.73h-2.4M331.5,73.24h1.3M592.5,73.24h-1.3M331.5,68.76h1.3M592.5,68.76h-1.3M331.5,64.27h1.3M592.5,64.27h-1.3M331.5,59.78h1.3M592.5,59.78h-1.3M331.5,55.29h2.4M592.5,55.29h-2.4M331.5,50.8h1.3M592.5,50.8h-1.3M331.5,46.31h1.3M592.5,46.31h-1.3M331.5,41.82h1.3M592.5,41.82h-1.3M331.5,37.33h1.3M592.5,37.33h-1.3M331.5,32.84h2.4M592.5,32.84h-2.4M331.5,28.36h1.3M592.5,28.36h-1.3M331.5,23.87h1.3M592.5,23.87h-1.3M331.5,19.38h1.3M592.5,19.38h-1.3M331.5,14.89h1.3M592.5,14.89h-1.3M331.5,10.4h2.4M592.5,10.4h-2.4" stroke="#363636" stroke-width="0.8" fill="none"/>
<text x="331.5" y="220.7" font-size="8.2" text-anchor="middle" fill="#151515" stroke="#151515" stroke-width="0.15" textLength="8.4" lengthAdjust="spacingAndGlyphs">20</text>
<text x="366.3" y="220.7" font-size="8.2" text-anchor="middle" fill="#151515" stroke="#151515" stroke-width="0.15" textLength="8.4" lengthAdjust="spacingAndGlyphs">18</text>
<text x="401.1" y="220.7" font-size="8.2" text-anchor="middle" fill="#151515" stroke="#151515" stroke-width="0.15" textLength="8.4" lengthAdjust="spacingAndGlyphs">16</text>
<text x="435.9" y="220.7" font-size="8.2" text-anchor="middle" fill="#151515" stroke="#151515" stroke-width="0.15" textLength="8.4" lengthAdjust="spacingAndGlyphs">14</text>
<text x="470.7" y="220.7" font-size="8.2" text-anchor="middle" fill="#151515" stroke="#151515" stroke-width="0.15" textLength="8.4" lengthAdjust="spacingAndGlyphs">12</text>
<text x="505.5" y="220.7" font-size="8.2" text-anchor="middle" fill="#151515" stroke="#151515" stroke-width="0.15" textLength="8.4" lengthAdjust="spacingAndGlyphs">10</text>
<text x="540.3" y="220.7" font-size="8.2" text-anchor="middle" fill="#151515" stroke="#151515" stroke-width="0.15" textLength="4.2" lengthAdjust="spacingAndGlyphs">8</text>
<text x="575.1" y="220.7" font-size="8.2" text-anchor="middle" fill="#151515" stroke="#151515" stroke-width="0.15" textLength="4.2" lengthAdjust="spacingAndGlyphs">6</text>
<text x="329.5" y="215.35" font-size="8.2" text-anchor="end" fill="#151515" stroke="#151515" stroke-width="0.15" textLength="10.49" lengthAdjust="spacingAndGlyphs">0.0</text>
<text x="329.5" y="192.91" font-size="8.2" text-anchor="end" fill="#151515" stroke="#151515" stroke-width="0.15" textLength="10.49" lengthAdjust="spacingAndGlyphs">0.5</text>
<text x="329.5" y="170.46" font-size="8.2" text-anchor="end" fill="#151515" stroke="#151515" stroke-width="0.15" textLength="10.49" lengthAdjust="spacingAndGlyphs">1.0</text>
<text x="329.5" y="148.02" font-size="8.2" text-anchor="end" fill="#151515" stroke="#151515" stroke-width="0.15" textLength="10.49" lengthAdjust="spacingAndGlyphs">1.5</text>
<text x="329.5" y="125.57" font-size="8.2" text-anchor="end" fill="#151515" stroke="#151515" stroke-width="0.15" textLength="10.49" lengthAdjust="spacingAndGlyphs">2.0</text>
<text x="329.5" y="103.13" font-size="8.2" text-anchor="end" fill="#151515" stroke="#151515" stroke-width="0.15" textLength="10.49" lengthAdjust="spacingAndGlyphs">2.5</text>
<text x="329.5" y="80.68" font-size="8.2" text-anchor="end" fill="#151515" stroke="#151515" stroke-width="0.15" textLength="10.49" lengthAdjust="spacingAndGlyphs">3.0</text>
<text x="329.5" y="58.24" font-size="8.2" text-anchor="end" fill="#151515" stroke="#151515" stroke-width="0.15" textLength="10.49" lengthAdjust="spacingAndGlyphs">3.5</text>
<text x="329.5" y="35.79" font-size="8.2" text-anchor="end" fill="#151515" stroke="#151515" stroke-width="0.15" textLength="10.49" lengthAdjust="spacingAndGlyphs">4.0</text>
<text x="329.5" y="13.35" font-size="8.2" text-anchor="end" fill="#151515" stroke="#151515" stroke-width="0.15" textLength="10.49" lengthAdjust="spacingAndGlyphs">4.5</text>
<text x="465.7" y="17.9" font-size="7.3" text-anchor="middle" fill="#151515" stroke="#151515" stroke-width="0.15" textLength="58.8" lengthAdjust="spacingAndGlyphs">South Ecliptic Pole</text>
<text x="462.5" y="227" font-size="7.1" text-anchor="middle" fill="#151515" stroke="#151515" stroke-width="0.15" textLength="31" lengthAdjust="spacingAndGlyphs">magnitude</text>
<text transform="translate(313.8,110.3) rotate(-90) scale(1.0249,1)" font-size="7.2" text-anchor="middle" fill="#151515" stroke="#151515" stroke-width="0.15">log [counts / mag / deg<tspan font-size="4.3" dy="-2.5">2</tspan><tspan dy="2.5"> ]</tspan></text>
<rect x="511.2" y="12.6" width="79.2" height="55.4" fill="#fff" stroke="#262626" stroke-width="0.9"/>
<circle cx="515.2" cy="18" r="1.75" fill="#000"/>
<circle cx="523.5" cy="18" r="1.75" fill="#000"/>
<text x="529.9" y="20" font-size="7.0" text-anchor="start" fill="#151515" stroke="#151515" stroke-width="0.15" textLength="32.2" lengthAdjust="spacingAndGlyphs">W2 4.6 <tspan font-style="italic" font-size="5.8">μ</tspan>m</text>
<path d="M514.2,27.5H524.5" stroke="#111" stroke-width="1"/>
<text x="529.9" y="29.4" font-size="7.0" text-anchor="start" fill="#151515" stroke="#151515" stroke-width="0.15" textLength="36.1" lengthAdjust="spacingAndGlyphs">IRAC 4.5 <tspan font-style="italic" font-size="5.8">μ</tspan>m</text>
<path d="M514.5,36.5H524.3" stroke="#8e8e8e" stroke-width="1" stroke-dasharray="4.2 3.3" opacity="0.75"/>
<text x="529.9" y="38.6" font-size="7.0" text-anchor="start" fill="#151515" stroke="#151515" stroke-width="0.15" textLength="54.7" lengthAdjust="spacingAndGlyphs">total stars (model)</text>
<path d="M514.5,45.5H524.3" stroke="#3434b8" stroke-width="1" stroke-dasharray="4.2 3.3" opacity="0.75"/>
<text x="529.9" y="47" font-size="7.0" text-anchor="start" fill="#151515" stroke="#151515" stroke-width="0.15" textLength="58.2" lengthAdjust="spacingAndGlyphs">disk dwarfs (model)</text>
<path d="M514.5,53.5H524.3" stroke="#2f8a2f" stroke-width="1" stroke-dasharray="4.2 3.3" opacity="0.75"/>
<text x="529.9" y="55.6" font-size="7.0" text-anchor="start" fill="#151515" stroke="#151515" stroke-width="0.15" textLength="56.7" lengthAdjust="spacingAndGlyphs">disk giants (model)</text>
<path d="M514.5,62.5H524.3" stroke="#f2ab50" stroke-width="1" stroke-dasharray="4.2 3.3" opacity="0.75"/>
<text x="529.9" y="64.1" font-size="7.0" text-anchor="start" fill="#151515" stroke="#151515" stroke-width="0.15" textLength="50.5" lengthAdjust="spacingAndGlyphs">spheroid (model)</text>
<polyline points="30,281.2 31.77,282.17 33.53,283.13 35.3,284.1 37.07,285.07 38.83,286.03 40.6,287 42.37,287.97 44.13,288.93 45.9,289.9 47.67,290.87 49.42,291.85 51.17,292.87 52.9,293.92 54.61,295.01 56.31,296.11 58.02,297.22 59.72,298.32 61.42,299.42 63.13,300.53 64.83,301.63 66.54,302.74 68.24,303.84 69.94,304.95 71.65,306.07 73.35,307.21 75.04,308.38 76.74,309.56 78.44,310.74 80.13,311.93 81.83,313.11 83.52,314.3 85.22,315.48 86.92,316.66 88.61,317.85 90.31,319.03 91.99,320.22 93.66,321.43 95.29,322.65 96.91,323.88 98.52,325.12 100.13,326.37 101.73,327.61 103.34,328.85 104.95,330.09 106.56,331.33 108.16,332.57 109.77,333.81 111.38,335.06 112.98,336.3 114.59,337.54 116.19,338.79 117.79,340.04 119.38,341.3 120.97,342.56 122.55,343.83 124.14,345.09 125.73,346.35 127.32,347.62 128.9,348.88 130.49,350.15 132.08,351.41 133.66,352.68 135.25,353.94 136.84,355.21 138.43,356.47 140.02,357.73 141.61,358.99 143.21,360.25 144.82,361.51 146.42,362.76 148.03,364.02 149.64,365.27 151.25,366.52 152.85,367.78 154.46,369.03 156.07,370.28 157.68,371.54 159.29,372.79 160.9,374.03 162.53,375.26 164.18,376.45 165.83,377.62 167.5,378.79 169.17,379.95 170.83,381.11 172.5,382.28 174.17,383.44 175.83,384.6 177.5,385.77 179.17,386.93 180.83,388.09 182.5,389.26 184.17,390.42 185.84,391.59 187.51,392.76 189.19,393.93 190.87,395.1 192.54,396.28 194.22,397.45 195.89,398.62 197.57,399.79 199.24,400.97 200.92,402.14 202.6,403.31 204.27,404.48 205.95,405.65 207.63,406.82 209.31,407.98 211,409.13 212.7,410.27 214.4,411.4 216.1,412.53 217.8,413.67 219.5,414.8 221.2,415.93 222.9,417.07 224.6,418.2 226.3,419.33 228.01,420.46 229.73,421.57 231.47,422.67 233.23,423.76 235,424.83 236.76,425.91 238.53,426.99 240.29,428.07 242.06,429.15 243.82,430.23 245.59,431.3 247.35,432.39 249.09,433.47 250.82,434.57 252.51,435.68 254.2,436.8 255.88,437.92 257.56,439.04 259.24,440.16 260.92,441.28 262.6,442.4 264.28,443.52 265.96,444.64 267.64,445.76 269.32,446.88 271,448" fill="none" stroke="#3434b8" stroke-width="1.15" stroke-dasharray="3.8 3.0" stroke-dashoffset="0" stroke-linejoin="round"/>
<polyline points="30,370.8 31.65,371.95 33.3,373.1 34.94,374.26 36.59,375.41 38.24,376.56 39.89,377.71 41.53,378.87 43.18,380.02 44.83,381.17 46.48,382.32 48.13,383.47 49.77,384.63 51.42,385.78 53.07,386.93 54.72,388.08 56.36,389.24 58.01,390.39 59.66,391.54 61.31,392.69 62.96,393.84 64.6,395 66.25,396.15 67.9,397.3 69.55,398.45 71.19,399.61 72.84,400.76 74.49,401.91 76.14,403.06 77.79,404.21 79.43,405.37 81.08,406.52 82.73,407.67 84.38,408.82 86.02,409.98 87.67,411.13 89.32,412.28 90.97,413.43 92.61,414.59 94.26,415.74 95.91,416.89 97.56,418.04 99.21,419.19 100.85,420.35 102.5,421.5 104.15,422.65 105.8,423.8 107.44,424.96 109.09,426.11 110.74,427.26 112.39,428.41 114.04,429.56 115.68,430.72 117.33,431.87 118.98,433.02 120.63,434.17 122.27,435.33 123.92,436.48 125.57,437.63 127.22,438.78 128.87,439.93 130.51,441.09 132.16,442.24 133.81,443.39 135.46,444.54 137.1,445.7 138.75,446.85 140.4,448" fill="none" stroke="#f2ab50" stroke-width="1.15" stroke-dasharray="3.8 3.0" stroke-dashoffset="0" stroke-linejoin="round"/>
<path d="M59.3,392.5V421.1M57.9,392.5h2.8M57.9,421.1h2.8M65.83,360.6V371.9M64.43,360.6h2.8M64.43,371.9h2.8M131.13,321V325M129.73,321h2.8M129.73,325h2.8M137.66,323.8V328M136.26,323.8h2.8M136.26,328h2.8M144.19,332.2V337.2M142.79,332.2h2.8M142.79,337.2h2.8M150.72,337.3V343.3M149.32,337.3h2.8M149.32,343.3h2.8M157.25,344.4V351.4M155.85,344.4h2.8M155.85,351.4h2.8M163.78,351.5V359.5M162.38,351.5h2.8M162.38,359.5h2.8M170.31,351.5V359.5M168.91,351.5h2.8M168.91,359.5h2.8M176.84,353.6V362.9M175.44,353.6h2.8M175.44,362.9h2.8M183.37,353.6V362.9M181.97,353.6h2.8M181.97,362.9h2.8M189.9,362.4V373.6M188.5,362.4h2.8M188.5,373.6h2.8M196.43,368.5V381.6M195.03,368.5h2.8M195.03,381.6h2.8M202.96,372.3V387.2M201.56,372.3h2.8M201.56,387.2h2.8M209.49,399.6V438.3M208.09,399.6h2.8M208.09,438.3h2.8M222.55,387.4V411.5M221.15,387.4h2.8M221.15,411.5h2.8M229.08,379.9V399M227.68,379.9h2.8M227.68,399h2.8M235.61,399.6V438.3M234.21,399.6h2.8M234.21,438.3h2.8M242.14,399.6V438.3M240.74,399.6h2.8M240.74,438.3h2.8M248.67,387.4V411.5M247.27,387.4h2.8M247.27,411.5h2.8M268.26,399.6V438.3M266.86,399.6h2.8M266.86,438.3h2.8" stroke="#303030" stroke-width="0.9" fill="none"/>
<circle cx="59.3" cy="402.4" r="1.6" fill="#000"/>
<circle cx="65.83" cy="365.5" r="1.6" fill="#000"/>
<circle cx="72.36" cy="294.3" r="1.6" fill="#000"/>
<circle cx="78.89" cy="281.5" r="1.6" fill="#000"/>
<circle cx="85.42" cy="275.6" r="1.6" fill="#000"/>
<circle cx="91.95" cy="281" r="1.6" fill="#000"/>
<circle cx="98.48" cy="285.3" r="1.6" fill="#000"/>
<circle cx="105.01" cy="292.4" r="1.6" fill="#000"/>
<circle cx="111.54" cy="301.2" r="1.6" fill="#000"/>
<circle cx="118.07" cy="311.1" r="1.6" fill="#000"/>
<circle cx="124.6" cy="313.5" r="1.6" fill="#000"/>
<circle cx="131.13" cy="323" r="1.6" fill="#000"/>
<circle cx="137.66" cy="325.9" r="1.6" fill="#000"/>
<circle cx="144.19" cy="334.7" r="1.6" fill="#000"/>
<circle cx="150.72" cy="340.3" r="1.6" fill="#000"/>
<circle cx="157.25" cy="347.9" r="1.6" fill="#000"/>
<circle cx="163.78" cy="355.3" r="1.6" fill="#000"/>
<circle cx="170.31" cy="355.3" r="1.6" fill="#000"/>
<circle cx="176.84" cy="357.8" r="1.6" fill="#000"/>
<circle cx="183.37" cy="357.8" r="1.6" fill="#000"/>
<circle cx="189.9" cy="367.2" r="1.6" fill="#000"/>
<circle cx="196.43" cy="374" r="1.6" fill="#000"/>
<circle cx="202.96" cy="378.6" r="1.6" fill="#000"/>
<circle cx="209.49" cy="411.5" r="1.6" fill="#000"/>
<circle cx="222.55" cy="396.4" r="1.6" fill="#000"/>
<circle cx="229.08" cy="387.4" r="1.6" fill="#000"/>
<circle cx="235.61" cy="411.5" r="1.6" fill="#000"/>
<circle cx="242.14" cy="411.5" r="1.6" fill="#000"/>
<circle cx="248.67" cy="396.4" r="1.6" fill="#000"/>
<circle cx="268.26" cy="411.5" r="1.6" fill="#000"/>
<rect x="30" y="245.3" width="261" height="202.7" fill="none" stroke="#363636" stroke-width="1.1"/>
<path d="M30,448v-1.3M30,245.3v1.3M43.05,448v-1.3M43.05,245.3v1.3M56.1,448v-2.4M56.1,245.3v2.4M69.15,448v-1.3M69.15,245.3v1.3M82.2,448v-1.3M82.2,245.3v1.3M95.25,448v-1.3M95.25,245.3v1.3M108.3,448v-2.4M108.3,245.3v2.4M121.35,448v-1.3M121.35,245.3v1.3M134.4,448v-1.3M134.4,245.3v1.3M147.45,448v-1.3M147.45,245.3v1.3M160.5,448v-2.4M160.5,245.3v2.4M173.55,448v-1.3M173.55,245.3v1.3M186.6,448v-1.3M186.6,245.3v1.3M199.65,448v-1.3M199.65,245.3v1.3M212.7,448v-2.4M212.7,245.3v2.4M225.75,448v-1.3M225.75,245.3v1.3M238.8,448v-1.3M238.8,245.3v1.3M251.85,448v-1.3M251.85,245.3v1.3M264.9,448v-2.4M264.9,245.3v2.4M277.95,448v-1.3M277.95,245.3v1.3M291,448v-1.3M291,245.3v1.3M30,448h2.4M291,448h-2.4M30,442.93h1.3M291,442.93h-1.3M30,437.87h1.3M291,437.87h-1.3M30,432.8h1.3M291,432.8h-1.3M30,427.73h1.3M291,427.73h-1.3M30,422.66h2.4M291,422.66h-2.4M30,417.6h1.3M291,417.6h-1.3M30,412.53h1.3M291,412.53h-1.3M30,407.46h1.3M291,407.46h-1.3M30,402.39h1.3M291,402.39h-1.3M30,397.32h2.4M291,397.32h-2.4M30,392.26h1.3M291,392.26h-1.3M30,387.19h1.3M291,387.19h-1.3M30,382.12h1.3M291,382.12h-1.3M30,377.06h1.3M291,377.06h-1.3M30,371.99h2.4M291,371.99h-2.4M30,366.92h1.3M291,366.92h-1.3M30,361.85h1.3M291,361.85h-1.3M30,356.78h1.3M291,356.78h-1.3M30,351.72h1.3M291,351.72h-1.3M30,346.65h2.4M291,346.65h-2.4M30,341.58h1.3M291,341.58h-1.3M30,336.51h1.3M291,336.51h-1.3M30,331.45h1.3M291,331.45h-1.3M30,326.38h1.3M291,326.38h-1.3M30,321.31h2.4M291,321.31h-2.4M30,316.25h1.3M291,316.25h-1.3M30,311.18h1.3M291,311.18h-1.3M30,306.11h1.3M291,306.11h-1.3M30,301.04h1.3M291,301.04h-1.3M30,295.98h2.4M291,295.98h-2.4M30,290.91h1.3M291,290.91h-1.3M30,285.84h1.3M291,285.84h-1.3M30,280.77h1.3M291,280.77h-1.3M30,275.7h1.3M291,275.7h-1.3M30,270.64h2.4M291,270.64h-2.4M30,265.57h1.3M291,265.57h-1.3M30,260.5h1.3M291,260.5h-1.3M30,255.44h1.3M291,255.44h-1.3M30,250.37h1.3M291,250.37h-1.3M30,245.3h2.4M291,245.3h-2.4" stroke="#363636" stroke-width="0.8" fill="none"/>
<text x="56.1" y="456.4" font-size="8.2" text-anchor="middle" fill="#151515" stroke="#151515" stroke-width="0.15" textLength="8.4" lengthAdjust="spacingAndGlyphs">14</text>
<text x="108.3" y="456.4" font-size="8.2" text-anchor="middle" fill="#151515" stroke="#151515" stroke-width="0.15" textLength="8.4" lengthAdjust="spacingAndGlyphs">12</text>
<text x="160.5" y="456.4" font-size="8.2" text-anchor="middle" fill="#151515" stroke="#151515" stroke-width="0.15" textLength="8.4" lengthAdjust="spacingAndGlyphs">10</text>
<text x="212.7" y="456.4" font-size="8.2" text-anchor="middle" fill="#151515" stroke="#151515" stroke-width="0.15" textLength="4.2" lengthAdjust="spacingAndGlyphs">8</text>
<text x="264.9" y="456.4" font-size="8.2" text-anchor="middle" fill="#151515" stroke="#151515" stroke-width="0.15" textLength="4.2" lengthAdjust="spacingAndGlyphs">6</text>
<text x="28" y="450.95" font-size="8.2" text-anchor="end" fill="#151515" stroke="#151515" stroke-width="0.15" textLength="10.49" lengthAdjust="spacingAndGlyphs">0.0</text>
<text x="28" y="425.61" font-size="8.2" text-anchor="end" fill="#151515" stroke="#151515" stroke-width="0.15" textLength="10.49" lengthAdjust="spacingAndGlyphs">0.5</text>
<text x="28" y="400.27" font-size="8.2" text-anchor="end" fill="#151515" stroke="#151515" stroke-width="0.15" textLength="10.49" lengthAdjust="spacingAndGlyphs">1.0</text>
<text x="28" y="374.94" font-size="8.2" text-anchor="end" fill="#151515" stroke="#151515" stroke-width="0.15" textLength="10.49" lengthAdjust="spacingAndGlyphs">1.5</text>
<text x="28" y="349.6" font-size="8.2" text-anchor="end" fill="#151515" stroke="#151515" stroke-width="0.15" textLength="10.49" lengthAdjust="spacingAndGlyphs">2.0</text>
<text x="28" y="324.26" font-size="8.2" text-anchor="end" fill="#151515" stroke="#151515" stroke-width="0.15" textLength="10.49" lengthAdjust="spacingAndGlyphs">2.5</text>
<text x="28" y="298.93" font-size="8.2" text-anchor="end" fill="#151515" stroke="#151515" stroke-width="0.15" textLength="10.49" lengthAdjust="spacingAndGlyphs">3.0</text>
<text x="28" y="273.59" font-size="8.2" text-anchor="end" fill="#151515" stroke="#151515" stroke-width="0.15" textLength="10.49" lengthAdjust="spacingAndGlyphs">3.5</text>
<text x="28" y="248.25" font-size="8.2" text-anchor="end" fill="#151515" stroke="#151515" stroke-width="0.15" textLength="10.49" lengthAdjust="spacingAndGlyphs">4.0</text>
<text x="164.4" y="254.9" font-size="7.3" text-anchor="middle" fill="#151515" stroke="#151515" stroke-width="0.15" textLength="58.8" lengthAdjust="spacingAndGlyphs">South Ecliptic Pole</text>
<text x="161" y="462.4" font-size="7.1" text-anchor="middle" fill="#151515" stroke="#151515" stroke-width="0.15" textLength="31" lengthAdjust="spacingAndGlyphs">magnitude</text>
<text transform="translate(12.3,346) rotate(-90) scale(1.0249,1)" font-size="7.2" text-anchor="middle" fill="#151515" stroke="#151515" stroke-width="0.15">log [counts / mag / deg<tspan font-size="4.3" dy="-2.5">2</tspan><tspan dy="2.5"> ]</tspan></text>
<rect x="200.4" y="248.3" width="88.3" height="36.8" fill="#fff" stroke="#262626" stroke-width="0.9"/>
<circle cx="204.6" cy="253" r="1.75" fill="#000"/>
<circle cx="212.5" cy="253" r="1.75" fill="#000"/>
<text x="219.2" y="255" font-size="7.0" text-anchor="start" fill="#151515" stroke="#151515" stroke-width="0.15" textLength="29.9" lengthAdjust="spacingAndGlyphs">W3 12 <tspan font-style="italic" font-size="5.8">μ</tspan>m</text>
<path d="M203.9,262.5H213.3" stroke="#8e8e8e" stroke-width="1" stroke-dasharray="4.2 3.3" opacity="0.75"/>
<text x="219.2" y="264.6" font-size="7.0" text-anchor="start" fill="#151515" stroke="#151515" stroke-width="0.15" textLength="66.6" lengthAdjust="spacingAndGlyphs">total stars (SKY model)</text>
<path d="M203.9,271.5H213.3" stroke="#3434b8" stroke-width="1" stroke-dasharray="4.2 3.3" opacity="0.75"/>
<text x="219.2" y="273.2" font-size="7.0" text-anchor="start" fill="#151515" stroke="#151515" stroke-width="0.15" textLength="49.3" lengthAdjust="spacingAndGlyphs">disk (SKY model)</text>
<path d="M203.9,279.5H213.3" stroke="#f2ab50" stroke-width="1" stroke-dasharray="4.2 3.3" opacity="0.75"/>
<text x="219.2" y="281.8" font-size="7.0" text-anchor="start" fill="#151515" stroke="#151515" stroke-width="0.15" textLength="62.6" lengthAdjust="spacingAndGlyphs">spheroid (SKY model)</text>
<polyline points="331.6,313.8 333.3,314.9 335,316 336.71,317.11 338.41,318.21 340.11,319.31 341.81,320.41 343.51,321.51 345.22,322.62 346.92,323.72 348.62,324.82 350.32,325.92 352.02,327.02 353.73,328.13 355.43,329.23 357.13,330.33 358.83,331.43 360.53,332.53 362.24,333.64 363.94,334.74 365.64,335.84 367.34,336.94 369.04,338.04 370.75,339.14 372.45,340.24 374.16,341.33 375.87,342.4 377.6,343.44 379.33,344.48 381.06,345.51 382.79,346.54 384.52,347.57 386.25,348.6 387.98,349.63 389.71,350.66 391.44,351.69 393.17,352.72 394.9,353.75 396.63,354.78 398.37,355.82 400.1,356.85 401.83,357.88 403.56,358.91 405.29,359.94 407.02,360.97 408.75,362 410.48,363.03 412.21,364.06 413.94,365.09 415.67,366.12 417.4,367.15 419.14,368.17 420.88,369.19 422.62,370.19 424.36,371.18 426.11,372.17 427.86,373.17 429.6,374.16 431.35,375.15 433.09,376.14 434.84,377.14 436.58,378.13 438.33,379.12 440.08,380.11 441.82,381.11 443.57,382.1 445.31,383.09 447.06,384.09 448.8,385.08 450.55,386.07 452.3,387.06 454.04,388.06 455.79,389.05 457.53,390.04 459.28,391.03 461.02,392.03 462.77,393.02 464.51,394.01 466.26,395 468.01,396 469.75,396.99 471.5,397.98 473.24,398.97 474.99,399.97 476.73,400.96 478.48,401.95 480.23,402.94 481.97,403.94 483.72,404.93 485.46,405.92 487.21,406.91 488.96,407.9 490.71,408.88 492.47,409.85 494.24,410.81 496.01,411.76 497.78,412.71 499.55,413.67 501.32,414.62 503.1,415.58 504.87,416.53 506.64,417.48 508.41,418.44 510.18,419.39 511.95,420.34 513.72,421.3 515.49,422.25 517.26,423.2 519.03,424.16 520.8,425.11 522.57,426.07 524.34,427.02 526.11,427.97 527.89,428.93 529.66,429.88 531.43,430.83 533.2,431.79 534.97,432.74 536.74,433.7 538.51,434.65 540.28,435.6 542.05,436.56 543.82,437.51 545.59,438.46 547.36,439.42 549.13,440.37 550.9,441.32 552.68,442.28 554.45,443.23 556.22,444.19 557.99,445.14 559.76,446.09 561.53,447.05 563.3,448" fill="none" stroke="#3434b8" stroke-width="1.15" stroke-dasharray="3.8 3.0" stroke-dashoffset="0" stroke-linejoin="round"/>
<polyline points="332,420.8 333.76,421.79 335.53,422.78 337.29,423.77 339.05,424.76 340.82,425.75 342.58,426.73 344.35,427.72 346.11,428.71 347.87,429.7 349.64,430.69 351.4,431.68 353.16,432.67 354.93,433.66 356.69,434.65 358.45,435.64 360.22,436.63 361.98,437.61 363.75,438.6 365.51,439.59 367.27,440.58 369.04,441.57 370.8,442.56 372.56,443.55 374.33,444.54 376.09,445.53 377.85,446.52 379.62,447.51 380.5,448" fill="none" stroke="#f2ab50" stroke-width="1.15" stroke-dasharray="3.8 3.0" stroke-dashoffset="0" stroke-linejoin="round"/>
<path d="M345.3,367.8H354.56V335.4H363.83V296.2H373.09V271.6H382.36V267.8H391.62V272.9H400.88V280.2H410.15V290.6H419.41V295.4H428.68V302.4H437.94V309.1H447.2V320.2H456.47V328.2H465.73V343.5H475V347.3H484.26V353.6H493.52V362H502.79V379.3H512.05V419.6H521.32V375H530.58V379.4H539.84V392.3H549.11V385.3H558.37V385.3H567.64" fill="none" stroke="#262626" stroke-width="1.0"/>
<path d="M567.6,385.3V437.5" stroke="#262626" stroke-width="1"/>
<path d="M400.8,370.7V392.1M399.4,370.7h2.8M399.4,392.1h2.8M410.4,333.5V342.4M409,333.5h2.8M409,342.4h2.8M419.3,313V319.9M417.9,313h2.8M417.9,319.9h2.8M428.7,304.5V309.3M427.3,304.5h2.8M427.3,309.3h2.8M438,306.5V311M436.6,306.5h2.8M436.6,311h2.8M447.3,314V319.5M445.9,314h2.8M445.9,319.5h2.8M456.4,328.5V335.5M455,328.5h2.8M455,335.5h2.8M465.8,341V349M464.4,341h2.8M464.4,349h2.8M475,352V362M473.6,352h2.8M473.6,362h2.8M484.1,352.7V366.1M482.7,352.7h2.8M482.7,366.1h2.8M493.3,361.2V379.3M491.9,361.2h2.8M491.9,379.3h2.8M502.7,379.3V406.9M501.3,379.3h2.8M501.3,406.9h2.8M512.3,379.3V406.9M510.9,379.3h2.8M510.9,406.9h2.8M521.4,367.4V387.6M520,367.4h2.8M520,387.6h2.8M530.6,374.8V398.5M529.2,374.8h2.8M529.2,398.5h2.8M539.9,379.2V406.9M538.5,379.2h2.8M538.5,406.9h2.8M549.2,393.2V437.5M547.8,393.2h2.8M547.8,437.5h2.8M567.6,393.2V437.5M566.2,393.2h2.8M566.2,437.5h2.8" stroke="#303030" stroke-width="0.9" fill="none"/>
<circle cx="400.8" cy="379.5" r="1.5" fill="#000"/>
<circle cx="410.4" cy="337.8" r="1.5" fill="#000"/>
<circle cx="419.3" cy="316.5" r="1.5" fill="#000"/>
<circle cx="428.7" cy="306.9" r="1.5" fill="#000"/>
<circle cx="438" cy="308.7" r="1.5" fill="#000"/>
<circle cx="447.3" cy="316.8" r="1.5" fill="#000"/>
<circle cx="456.4" cy="332" r="1.5" fill="#000"/>
<circle cx="465.8" cy="345" r="1.5" fill="#000"/>
<circle cx="475" cy="356.9" r="1.5" fill="#000"/>
<circle cx="484.1" cy="358.1" r="1.5" fill="#000"/>
<circle cx="493.3" cy="369.3" r="1.5" fill="#000"/>
<circle cx="502.7" cy="389.5" r="1.5" fill="#000"/>
<circle cx="512.3" cy="389.5" r="1.5" fill="#000"/>
<circle cx="521.4" cy="375.5" r="1.5" fill="#000"/>
<circle cx="530.6" cy="384.1" r="1.5" fill="#000"/>
<circle cx="539.9" cy="389.6" r="1.5" fill="#000"/>
<circle cx="549.2" cy="406.9" r="1.5" fill="#000"/>
<circle cx="567.6" cy="406.9" r="1.5" fill="#000"/>
<rect x="331.4" y="247.4" width="259.4" height="200.7" fill="none" stroke="#363636" stroke-width="1.1"/>
<path d="M331.4,448.1v-2.4M331.4,247.4v2.4M349.93,448.1v-1.3M349.93,247.4v1.3M368.46,448.1v-2.4M368.46,247.4v2.4M386.99,448.1v-1.3M386.99,247.4v1.3M405.51,448.1v-2.4M405.51,247.4v2.4M424.04,448.1v-1.3M424.04,247.4v1.3M442.57,448.1v-2.4M442.57,247.4v2.4M461.1,448.1v-1.3M461.1,247.4v1.3M479.63,448.1v-2.4M479.63,247.4v2.4M498.16,448.1v-1.3M498.16,247.4v1.3M516.69,448.1v-2.4M516.69,247.4v2.4M535.21,448.1v-1.3M535.21,247.4v1.3M553.74,448.1v-2.4M553.74,247.4v2.4M572.27,448.1v-1.3M572.27,247.4v1.3M590.8,448.1v-2.4M590.8,247.4v2.4M331.4,448.1h2.4M590.8,448.1h-2.4M331.4,442.37h1.3M590.8,442.37h-1.3M331.4,436.63h1.3M590.8,436.63h-1.3M331.4,430.9h1.3M590.8,430.9h-1.3M331.4,425.16h1.3M590.8,425.16h-1.3M331.4,419.43h2.4M590.8,419.43h-2.4M331.4,413.69h1.3M590.8,413.69h-1.3M331.4,407.96h1.3M590.8,407.96h-1.3M331.4,402.23h1.3M590.8,402.23h-1.3M331.4,396.49h1.3M590.8,396.49h-1.3M331.4,390.76h2.4M590.8,390.76h-2.4M331.4,385.02h1.3M590.8,385.02h-1.3M331.4,379.29h1.3M590.8,379.29h-1.3M331.4,373.55h1.3M590.8,373.55h-1.3M331.4,367.82h1.3M590.8,367.82h-1.3M331.4,362.09h2.4M590.8,362.09h-2.4M331.4,356.35h1.3M590.8,356.35h-1.3M331.4,350.62h1.3M590.8,350.62h-1.3M331.4,344.88h1.3M590.8,344.88h-1.3M331.4,339.15h1.3M590.8,339.15h-1.3M331.4,333.41h2.4M590.8,333.41h-2.4M331.4,327.68h1.3M590.8,327.68h-1.3M331.4,321.95h1.3M590.8,321.95h-1.3M331.4,316.21h1.3M590.8,316.21h-1.3M331.4,310.48h1.3M590.8,310.48h-1.3M331.4,304.74h2.4M590.8,304.74h-2.4M331.4,299.01h1.3M590.8,299.01h-1.3M331.4,293.27h1.3M590.8,293.27h-1.3M331.4,287.54h1.3M590.8,287.54h-1.3M331.4,281.81h1.3M590.8,281.81h-1.3M331.4,276.07h2.4M590.8,276.07h-2.4M331.4,270.34h1.3M590.8,270.34h-1.3M331.4,264.6h1.3M590.8,264.6h-1.3M331.4,258.87h1.3M590.8,258.87h-1.3M331.4,253.13h1.3M590.8,253.13h-1.3M331.4,247.4h2.4M590.8,247.4h-2.4" stroke="#363636" stroke-width="0.8" fill="none"/>
<text x="331.4" y="456.4" font-size="8.2" text-anchor="middle" fill="#151515" stroke="#151515" stroke-width="0.15" textLength="8.4" lengthAdjust="spacingAndGlyphs">12</text>
<text x="368.46" y="456.4" font-size="8.2" text-anchor="middle" fill="#151515" stroke="#151515" stroke-width="0.15" textLength="7.84" lengthAdjust="spacingAndGlyphs">11</text>
<text x="405.51" y="456.4" font-size="8.2" text-anchor="middle" fill="#151515" stroke="#151515" stroke-width="0.15" textLength="8.4" lengthAdjust="spacingAndGlyphs">10</text>
<text x="442.57" y="456.4" font-size="8.2" text-anchor="middle" fill="#151515" stroke="#151515" stroke-width="0.15" textLength="4.2" lengthAdjust="spacingAndGlyphs">9</text>
<text x="479.63" y="456.4" font-size="8.2" text-anchor="middle" fill="#151515" stroke="#151515" stroke-width="0.15" textLength="4.2" lengthAdjust="spacingAndGlyphs">8</text>
<text x="516.69" y="456.4" font-size="8.2" text-anchor="middle" fill="#151515" stroke="#151515" stroke-width="0.15" textLength="4.2" lengthAdjust="spacingAndGlyphs">7</text>
<text x="553.74" y="456.4" font-size="8.2" text-anchor="middle" fill="#151515" stroke="#151515" stroke-width="0.15" textLength="4.2" lengthAdjust="spacingAndGlyphs">6</text>
<text x="590.8" y="456.4" font-size="8.2" text-anchor="middle" fill="#151515" stroke="#151515" stroke-width="0.15" textLength="4.2" lengthAdjust="spacingAndGlyphs">5</text>
<text x="329.4" y="451.05" font-size="8.2" text-anchor="end" fill="#151515" stroke="#151515" stroke-width="0.15" textLength="10.49" lengthAdjust="spacingAndGlyphs">0.0</text>
<text x="329.4" y="422.38" font-size="8.2" text-anchor="end" fill="#151515" stroke="#151515" stroke-width="0.15" textLength="10.49" lengthAdjust="spacingAndGlyphs">0.5</text>
<text x="329.4" y="393.71" font-size="8.2" text-anchor="end" fill="#151515" stroke="#151515" stroke-width="0.15" textLength="10.49" lengthAdjust="spacingAndGlyphs">1.0</text>
<text x="329.4" y="365.04" font-size="8.2" text-anchor="end" fill="#151515" stroke="#151515" stroke-width="0.15" textLength="10.49" lengthAdjust="spacingAndGlyphs">1.5</text>
<text x="329.4" y="336.36" font-size="8.2" text-anchor="end" fill="#151515" stroke="#151515" stroke-width="0.15" textLength="10.49" lengthAdjust="spacingAndGlyphs">2.0</text>
<text x="329.4" y="307.69" font-size="8.2" text-anchor="end" fill="#151515" stroke="#151515" stroke-width="0.15" textLength="10.49" lengthAdjust="spacingAndGlyphs">2.5</text>
<text x="329.4" y="279.02" font-size="8.2" text-anchor="end" fill="#151515" stroke="#151515" stroke-width="0.15" textLength="10.49" lengthAdjust="spacingAndGlyphs">3.0</text>
<text x="329.4" y="250.35" font-size="8.2" text-anchor="end" fill="#151515" stroke="#151515" stroke-width="0.15" textLength="10.49" lengthAdjust="spacingAndGlyphs">3.5</text>
<text x="472.2" y="256.7" font-size="7.3" text-anchor="middle" fill="#151515" stroke="#151515" stroke-width="0.15" textLength="58.8" lengthAdjust="spacingAndGlyphs">South Ecliptic Pole</text>
<text x="461.6" y="462.6" font-size="7.1" text-anchor="middle" fill="#151515" stroke="#151515" stroke-width="0.15" textLength="31" lengthAdjust="spacingAndGlyphs">magnitude</text>
<text transform="translate(314.6,346.4) rotate(-90) scale(1.0249,1)" font-size="7.2" text-anchor="middle" fill="#151515" stroke="#151515" stroke-width="0.15">log [counts / mag / deg<tspan font-size="4.3" dy="-2.5">2</tspan><tspan dy="2.5"> ]</tspan></text>
<rect x="500.8" y="250.5" width="87.2" height="45.8" fill="#fff" stroke="#262626" stroke-width="0.9"/>
<circle cx="505" cy="254.9" r="1.75" fill="#000"/>
<circle cx="512.9" cy="254.9" r="1.75" fill="#000"/>
<text x="519.7" y="256.9" font-size="7.0" text-anchor="start" fill="#151515" stroke="#151515" stroke-width="0.15" textLength="30.2" lengthAdjust="spacingAndGlyphs">W4 22 <tspan font-style="italic" font-size="5.8">μ</tspan>m</text>
<path d="M504,264.5H513.9" stroke="#111" stroke-width="1"/>
<text x="519.7" y="266.1" font-size="7.0" text-anchor="start" fill="#151515" stroke="#151515" stroke-width="0.15" textLength="34.3" lengthAdjust="spacingAndGlyphs">MIPS 24 <tspan font-style="italic" font-size="5.8">μ</tspan>m</text>
<path d="M504.3,273.5H513.7" stroke="#8e8e8e" stroke-width="1" stroke-dasharray="4.2 3.3" opacity="0.75"/>
<text x="519.7" y="275.7" font-size="7.0" text-anchor="start" fill="#151515" stroke="#151515" stroke-width="0.15" textLength="66.6" lengthAdjust="spacingAndGlyphs">total stars (SKY model)</text>
<path d="M504.3,282.5H513.7" stroke="#3434b8" stroke-width="1" stroke-dasharray="4.2 3.3" opacity="0.75"/>
<text x="519.7" y="284.1" font-size="7.0" text-anchor="start" fill="#151515" stroke="#151515" stroke-width="0.15" textLength="49.3" lengthAdjust="spacingAndGlyphs">disk (SKY model)</text>
<path d="M504.3,290.5H513.7" stroke="#f2ab50" stroke-width="1" stroke-dasharray="4.2 3.3" opacity="0.75"/>
<text x="519.7" y="292.6" font-size="7.0" text-anchor="start" fill="#151515" stroke="#151515" stroke-width="0.15" textLength="62.6" lengthAdjust="spacingAndGlyphs">spheroid (SKY model)</text>
</svg></body></html>
